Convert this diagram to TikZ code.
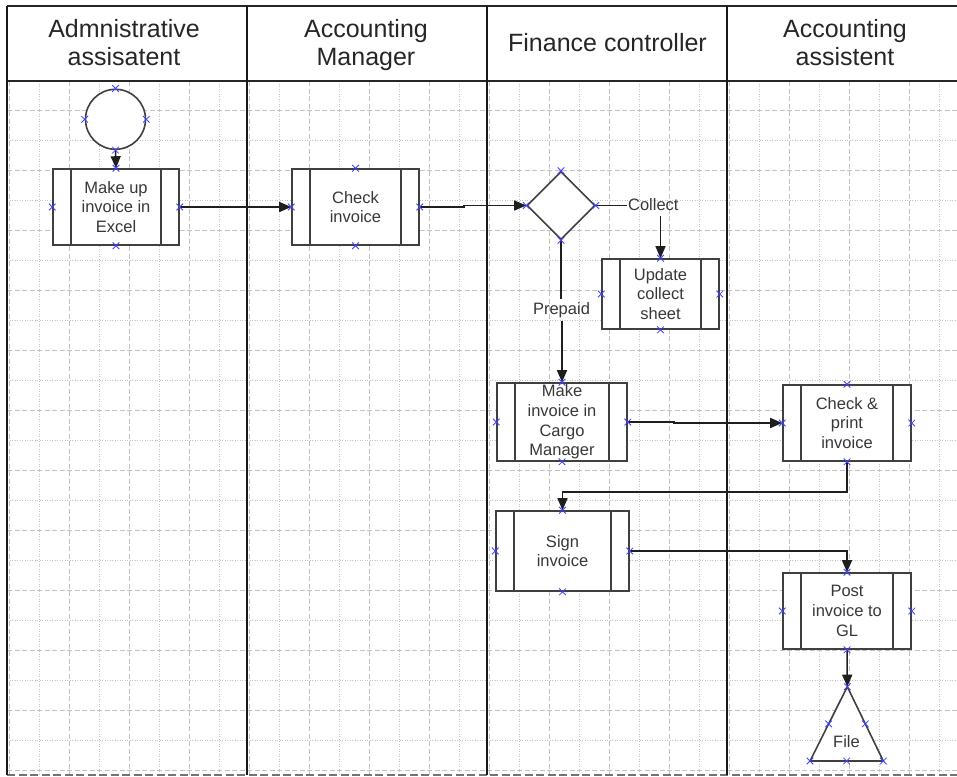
\documentclass[tikz,border=0pt]{standalone}
\usepackage{fontspec}
\setmainfont{Liberation Sans}
\usetikzlibrary{arrows.meta,shapes.geometric,calc}

\begin{document}
\begin{tikzpicture}[x=1pt,y=-1pt,
  gridmajor/.style={draw=black!24, line width=0.8pt, dash pattern=on 5pt off 2.5pt},
  gridminor/.style={draw=black!24, line width=0.8pt, dash pattern=on 1pt off 1.5pt},
  lane/.style={draw=black!90, line width=2.4pt},
  frame/.style={draw=black!85, line width=2pt},
  shapeline/.style={draw=black!75, line width=1.6pt, fill=white},
  procbox/.style={shapeline, inner sep=0pt, align=center,
    font=\fontsize{16.5}{19.7}\selectfont, text=black!78,
    path picture={\draw[black!75, line width=1.6pt]
      ([xshift=18pt]path picture bounding box.north west) -- ([xshift=18pt]path picture bounding box.south west)
      ([xshift=-18pt]path picture bounding box.north east) -- ([xshift=-18pt]path picture bounding box.south east);}},
  header/.style={font=\fontsize{25}{28.4}\selectfont, text=black!85, anchor=base, inner sep=0pt},
  lbl/.style={font=\fontsize{16.5}{19.7}\selectfont, text=black!78, anchor=base},
  conn/.style={draw=black!88, line width=1.5pt},
  arrow/.style={conn, -{Triangle[length=12pt,width=10pt]}},
  cpx/.pic={\draw[draw=blue!75, line width=0.8pt] (-3.3,-3.3) -- (3.3,3.3) (-3.3,3.3) -- (3.3,-3.3);}
]
\useasboundingbox (0,0) rectangle (957,776);

% background grid below the lane headers
\begin{scope}
  \clip (7,81) rectangle (957,775);
  \foreach \j in {0,...,15} {
    \draw[gridmajor] ({9.3+60*\j},81) -- ({9.3+60*\j},775);
    \draw[gridminor] ({39.3+60*\j},81) -- ({39.3+60*\j},775);
  }
  \foreach \j in {0,...,11} {
    \draw[gridmajor] (7,{110.7+60*\j}) -- (957,{110.7+60*\j});
  }
  \foreach \j in {0,...,10} {
    \draw[gridminor] (7,{140.7+60*\j}) -- (957,{140.7+60*\j});
  }
\end{scope}

% page edge at the bottom
\draw[draw=black!55, line width=2pt, dash pattern=on 8pt off 3.5pt] (7,775) -- (957,775);

% lanes and header band
\draw[frame, line width=2.6pt] (7,6) -- (957,6);
\draw[frame] (7,81) -- (957,81);
\draw[lane] (7,6) -- (7,775);
\draw[lane] (247,6) -- (247,775);
\draw[lane] (487,6) -- (487,775);
\draw[lane] (727,6) -- (727,775);

\node[header] (h1a) at (124,37.3) {Admnistrative};
\node[header] (h1b) at (124,65.7) {assisatent};
\node[header] (h2a) at (366,37.3) {Accounting};
\node[header] (h2b) at (366,65.7) {Manager};
\node[header] (h3a) at (607.5,51.5) {Finance controller};
\node[header] (h4a) at (845,37.3) {Accounting};
\node[header] (h4b) at (845,65.7) {assistent};

% shapes
\node[shapeline, circle, minimum size=60pt, inner sep=0pt] (start) at (115.5,119.3) {};
\node[procbox, minimum width=126pt, minimum height=76pt] (makeup) at (116,207) {Make up\\invoice in\\Excel};
\node[procbox, minimum width=127pt, minimum height=76pt] (check) at (355.5,207) {Check\\invoice};
\node[shapeline, diamond, minimum width=68pt, minimum height=68pt, inner sep=0pt] (dia) at (561,205.5) {};
\node[procbox, minimum width=117pt, minimum height=70pt] (update) at (660.5,294) {Update\\collect\\sheet};
\node[procbox, minimum width=130pt, minimum height=78pt] (cargo) at (562,422) {Make\\invoice in\\Cargo\\Manager};
\node[procbox, minimum width=128pt, minimum height=76pt] (cprint) at (847,423) {Check \&\\print\\invoice};
\node[procbox, minimum width=133pt, minimum height=80pt] (sign) at (562.5,551) {Sign\\invoice};
\node[procbox, minimum width=128pt, minimum height=76pt] (post) at (847,611) {Post\\invoice to\\GL};

\coordinate (fileTop) at (847.3,686.7);
\coordinate (fileL) at (810,761);
\coordinate (fileR) at (883.3,761);
\draw[shapeline] (fileTop) -- (fileR) -- (fileL) -- cycle;
\node[lbl] (file) at (846.5,747) {File};

% branch labels
\node[lbl, inner xsep=0.5pt, inner ysep=6pt] (collect) at (653.3,210) {Collect};
\node[lbl, inner xsep=1pt, inner ysep=3pt] (prepaid) at (561.5,314) {Prepaid};

% connectors
\draw[arrow] (start.south) -- (makeup.north);
\draw[arrow] (makeup.east) -- (check.west);
\draw[arrow] (check.east) -- ++(44,0) |- (dia.west);
\draw[conn] (dia.east) -- (dia.east -| collect.west);
\draw[arrow] (update.north |- collect.south) -- (update.north);
\draw[conn] (dia.south) -- (dia.south |- prepaid.north);
\draw[arrow] (cargo.north |- prepaid.south) -- (cargo.north);
\draw[arrow] (cargo.east) -- ++(46,0) |- (cprint.west);
\draw[arrow] (cprint.south) -- ++(0,30) -| (sign.north);
\draw[arrow] (sign.east) -| (post.north);
\draw[arrow] (post.south) -- (fileTop);

% connection points
\foreach \n in {start,makeup,check,dia,update,cargo,cprint,sign,post} {
  \pic at (\n.north) {cpx};
  \pic at (\n.south) {cpx};
  \pic at (\n.east) {cpx};
  \pic at (\n.west) {cpx};
}
\pic at (fileTop) {cpx};
\pic at (fileL) {cpx};
\pic at (fileR) {cpx};
\pic at ($(fileL)!0.5!(fileR)$) {cpx};
\pic at ($(fileTop)!0.5!(fileL)$) {cpx};
\pic at ($(fileTop)!0.5!(fileR)$) {cpx};
\end{tikzpicture}
\end{document}
